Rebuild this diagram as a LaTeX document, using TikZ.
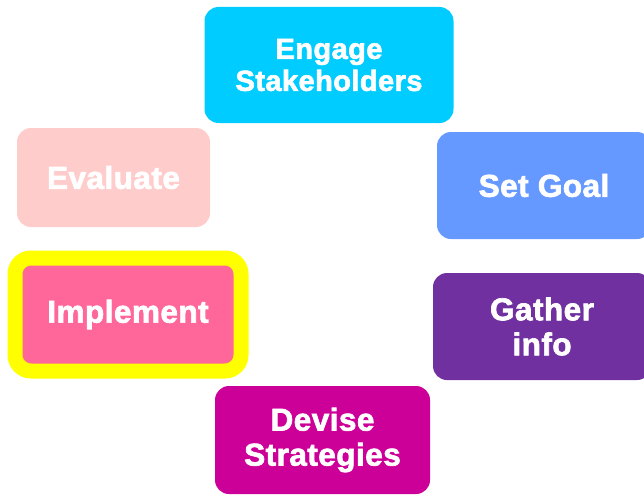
\documentclass[tikz,border=0pt]{standalone}
\usepackage{fontspec}
\setmainfont{Liberation Sans}[BoldFeatures={FakeBold=2.2, LetterSpace=1.5}]
\definecolor{cEngage}{HTML}{00CCFF}
\definecolor{cGoal}{HTML}{6699FF}
\definecolor{cGather}{HTML}{7030A0}
\definecolor{cDevise}{HTML}{CC0099}
\definecolor{cImpl}{HTML}{FF6699}
\definecolor{cEval}{HTML}{FFCCCC}
\definecolor{cHi}{HTML}{FFFF00}
\tikzset{
  stagebox/.style={rounded corners=14pt, inner sep=0pt, align=center, text=white,
    font=\fontsize{31.5}{35}\selectfont\bfseries},
  smalltext/.style={font=\fontsize{29}{32}\selectfont\bfseries},
}
\begin{document}
\begin{tikzpicture}[x=1pt,y=-1pt]
\useasboundingbox (0,0) rectangle (644,495);
\node[stagebox, smalltext, fill=cEngage, minimum width=249pt, minimum height=116pt] (engage) at (329,65) {Engage\\Stakeholders};
\node[stagebox, fill=cGoal, minimum width=214pt, minimum height=107pt] (goal) at (544,185.5) {Set Goal};
\node[stagebox, fill=cGather, minimum width=218pt, minimum height=107pt] (gather) at (542,326.5) {Gather\\info};
\node[stagebox, fill=cDevise, minimum width=215pt, minimum height=108pt] (devise) at (322.5,440) {Devise\\Strategies};
\node[stagebox, fill=cImpl, draw=cHi, line width=15pt, rounded corners=16pt, minimum width=226pt, minimum height=113pt] (impl) at (128,314.5) {Implement};
\node[stagebox, fill=cEval, minimum width=193pt, minimum height=99pt] (eval) at (113.5,177.5) {Evaluate};
\end{tikzpicture}
\end{document}
